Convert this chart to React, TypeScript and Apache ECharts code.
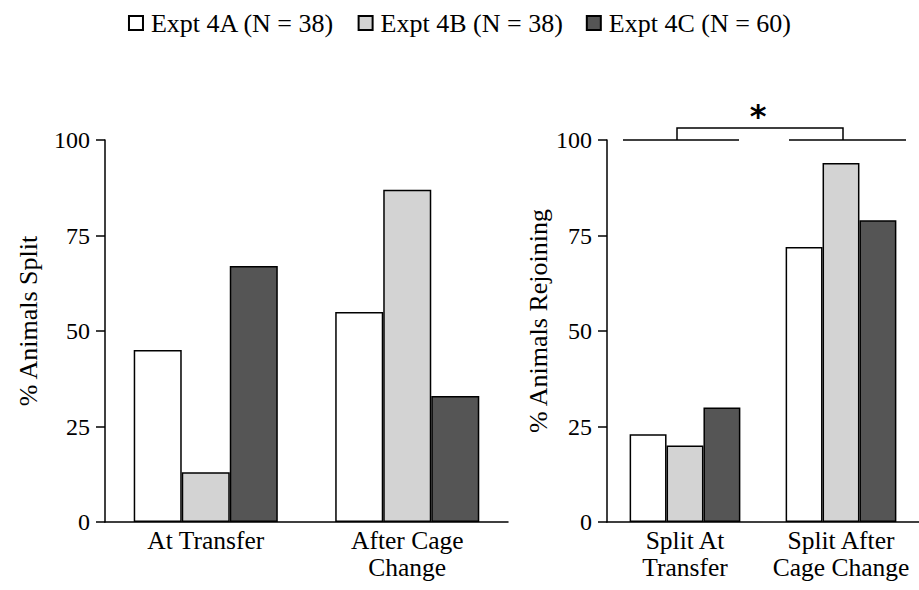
import React, { useEffect, useRef } from "react";
import * as echarts from "echarts";

const categoriesLeft = ["At Transfer", "After Cage\nChange"];
const categoriesRight = ["Split At\nTransfer", "Split After\nCage Change"];
const seriesNames = ["Expt 4A (N = 38)", "Expt 4B (N = 38)", "Expt 4C (N = 60)"];
const splitA = [45, 55];
const splitB = [13, 87];
const splitC = [67, 33];
const rejoinA = [23, 72];
const rejoinB = [20, 94];
const rejoinC = [30, 79];
const yTicks = [0, 25, 50, 75, 100];
const colors = ["#ffffff", "#d3d3d3", "#555555"];
const FONT = "'Liberation Serif', 'Times New Roman', serif";

export default function App() {
  const ref = useRef<HTMLDivElement>(null);
  useEffect(() => {
    if (!ref.current) return;
    const chart = echarts.init(ref.current, null, { renderer: "svg" });
    const textStyle = { fontFamily: FONT, color: "#000", fontSize: 24 };
    const yAxisBase = (name: string, gap: number, grid: number) => ({
      type: "value",
      gridIndex: grid,
      min: yTicks[0],
      max: yTicks[yTicks.length - 1],
      interval: 25,
      name,
      nameLocation: "middle",
      nameGap: gap,
      nameTextStyle: { ...textStyle, fontSize: 26, padding: [0, 0, 0, 20] },
      axisLine: { show: true, lineStyle: { color: "#000", width: 1.5 } },
      axisTick: { show: true, inside: false, length: 9, lineStyle: { color: "#000", width: 1.5 } },
      axisLabel: { ...textStyle, margin: 15 },
      splitLine: { show: false },
    });
    const xAxisBase = (data: string[], grid: number) => ({
      type: "category",
      gridIndex: grid,
      data,
      axisLine: { show: true, lineStyle: { color: "#000", width: 1.5 } },
      axisTick: { show: false },
      axisLabel: { ...textStyle, fontSize: 25.5, lineHeight: 27, margin: 5, interval: 0, hideOverlap: false },
    });
    const makeSeries = (vals: number[][], grid: number, gapCat: string) =>
      vals.map((v, i) => ({
        type: "bar",
        name: seriesNames[i],
        xAxisIndex: grid,
        yAxisIndex: grid,
        data: v,
        barGap: "0%",
        barCategoryGap: gapCat,
        itemStyle: { color: colors[i], borderColor: "#000", borderWidth: 1.5 },
      }));
    chart.setOption({
      animation: false,
      textStyle: { fontFamily: FONT },
      legend: {
        data: seriesNames,
        left: "center",
        top: 5,
        itemWidth: 14,
        itemHeight: 14,
        itemGap: 23,
        textStyle: { ...textStyle, fontSize: 26, padding: [0, 0, 0, 3] },
        icon: "rect",
        selectedMode: false,
      },
      grid: [
        { left: 105, top: 140, width: 403, height: 382 },
        { left: 607, top: 140, width: 312, height: 382 },
      ],
      xAxis: [xAxisBase(categoriesLeft, 0), xAxisBase(categoriesRight, 1)],
      yAxis: [yAxisBase("% Animals Split", 64, 0), yAxisBase("% Animals Rejoining", 56, 1)],
      series: [
        ...makeSeries([splitA, splitB, splitC], 0, "28.5%"),
        ...makeSeries([rejoinA, rejoinB, rejoinC], 1, "29%"),
      ],
    });
    // significance annotation on the right panel
    const p1 = chart.convertToPixel({ gridIndex: 1 }, [0, 100]) as number[];
    const p2 = chart.convertToPixel({ gridIndex: 1 }, [1, 100]) as number[];
    const y100 = p1[1];
    const lineStyle = { stroke: "#000", lineWidth: 1.5 };
    const bx1 = p1[0] - 8;
    const bx2 = p2[0] + 2;
    const by = y100 - 12;
    chart.setOption({
      graphic: [
        { type: "line", shape: { x1: p1[0] - 62, y1: y100, x2: p1[0] + 54, y2: y100 }, style: lineStyle },
        { type: "line", shape: { x1: p2[0] - 52, y1: y100, x2: p2[0] + 65, y2: y100 }, style: lineStyle },
        {
          type: "polyline",
          shape: { points: [[bx1, y100], [bx1, by], [bx2, by], [bx2, y100]] },
          style: { ...lineStyle, fill: "none" },
        },
        {
          type: "text",
          x: (bx1 + bx2) / 2 - 2,
          y: by + 4,
          style: {
            text: "*",
            fontFamily: "'DejaVu Sans', sans-serif",
            fontWeight: "bold",
            fontSize: 32,
            fill: "#000",
            align: "center",
            verticalAlign: "bottom",
          },
        },
      ],
    });
    return () => chart.dispose();
  }, []);
  return (
    <div
      ref={ref}
      style={{ position: "fixed", left: 0, top: 0, width: 919, height: 590, background: "#fff" }}
    />
  );
}
